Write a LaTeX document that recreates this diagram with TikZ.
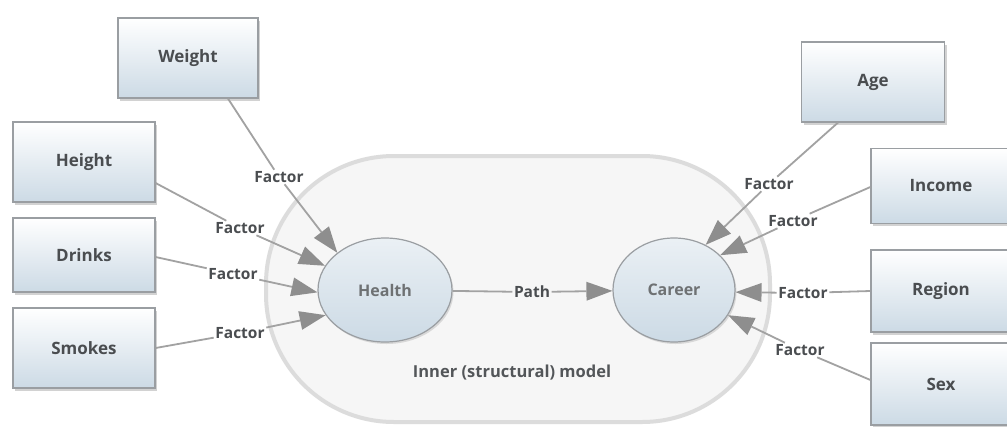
\documentclass[tikz,border=0pt]{standalone}
\usepackage{fontspec}
\setmainfont{Open Sans}
\usetikzlibrary{arrows.meta,shadows,shapes.geometric}
\definecolor{boxblue}{HTML}{CCDAE5}
\definecolor{boxedge}{HTML}{9A9EA2}
\definecolor{linegray}{HTML}{A2A2A2}
\definecolor{tipgray}{HTML}{8E8E8E}
\definecolor{txtgray}{HTML}{4A4D50}
\definecolor{panel}{HTML}{F6F6F6}
\definecolor{panelring}{HTML}{DCDCDC}
\tikzset{
  varbox/.style={draw=boxedge, line width=1.2pt, top color=white, bottom color=boxblue,
    minimum width=#1, minimum height=80pt, inner sep=0pt,
    font=\bfseries\fontsize{17}{19}\selectfont, text=txtgray,
    drop shadow={shadow xshift=2pt, shadow yshift=-2.5pt, opacity=0.35}},
  latent/.style={ellipse, draw=boxedge, line width=1.2pt, top color=white!60!boxblue, bottom color=boxblue,
    inner sep=0pt, font=\bfseries\fontsize{16}{18}\selectfont, text=txtgray!80,
    drop shadow={shadow xshift=1.5pt, shadow yshift=-2pt, opacity=0.25}},
  lbl/.style={font=\bfseries\fontsize{15.5}{17}\selectfont, text=txtgray, inner sep=1.5pt},
  link/.style={draw=linegray, line width=1.8pt},
  tiptri/.tip={Triangle[length=26pt,width=19pt,line width=0pt,fill=tipgray,color=tipgray]},
  arr/.style={link, -tiptri},
}
\begin{document}
\begin{tikzpicture}[x=1pt,y=-1pt]
\useasboundingbox (0,0) rectangle (1007,426);
\fill[white] (0,0) rectangle (1007,426);

% structural panel
\draw[draw=panelring, line width=4pt, fill=panel, rounded corners=128pt]
  (266,156) rectangle (770,422);
\node[lbl, text=txtgray!95, font=\bfseries\fontsize{16.5}{18}\selectfont] (inner) at (512,373) {Inner (structural) model};

% latent variables
\node[latent, minimum width=134pt, minimum height=104pt] (health) at (385,290) {Health};
\node[latent, minimum width=122pt, minimum height=104pt] (career) at (674,290) {Career};

% indicators
\node[varbox=140pt] (weight) at (188,58) {Weight};
\node[varbox=142pt] (height) at (84,162) {Height};
\node[varbox=142pt, minimum height=74pt] (drinks) at (84,255) {Drinks};
\node[varbox=142pt] (smokes) at (84,348) {Smokes};
\node[varbox=143pt] (age) at (873,82) {Age};
\node[varbox=140pt, minimum height=75pt] (income) at (941,186) {Income};
\node[varbox=140pt, minimum height=82pt] (region) at (941,291) {Region};
\node[varbox=140pt, minimum height=82pt] (sex) at (941,384) {Sex};

% connector labels
\node[lbl] (fw) at (279,177) {Factor};
\node[lbl] (fh) at (240,228) {Factor};
\node[lbl] (fd) at (233,274) {Factor};
\node[lbl] (fs) at (240,333) {Factor};
\node[lbl] (fa) at (769,184) {Factor};
\node[lbl] (fi) at (793,221) {Factor};
\node[lbl] (fr) at (803,293) {Factor};
\node[lbl] (fx) at (800,350) {Factor};
\node[lbl] (fp) at (532,292) {Path};

% measurement links, left
\path (weight.south) ++(40pt,0) coordinate (w0);
\draw[link] (w0) -- (fw);
\draw[arr] (fw) -- (health.142);
\draw[link] (height.east |- 0,183) coordinate (h0) -- (fh);
\draw[arr] (fh) -- (health.158);
\draw[link] (drinks.east |- 0,257) coordinate (d0) -- (fd);
\draw[arr] (fd) -- (health.182);
\draw[link] (smokes.east |- 0,348) coordinate (s0) -- (fs);
\draw[arr] (fs) -- (health.203);

% measurement links, right
\path (age.south) ++(-35pt,0) coordinate (a0);
\draw[link] (a0) -- (fa);
\draw[arr] (fa) -- (career.55);
\draw[link] (income.west |- 0,187) coordinate (i0) -- (fi);
\draw[arr] (fi) -- (career.37);
\draw[link] (region.west) -- (fr);
\draw[arr] (fr) -- (career.358);
\draw[link] (sex.west |- 0,380) coordinate (x0) -- (fx);
\draw[arr] (fx) -- (career.335);

% structural path
\draw[link] (health) -- (fp);
\draw[arr] (fp) -- (career);
\end{tikzpicture}
\end{document}
